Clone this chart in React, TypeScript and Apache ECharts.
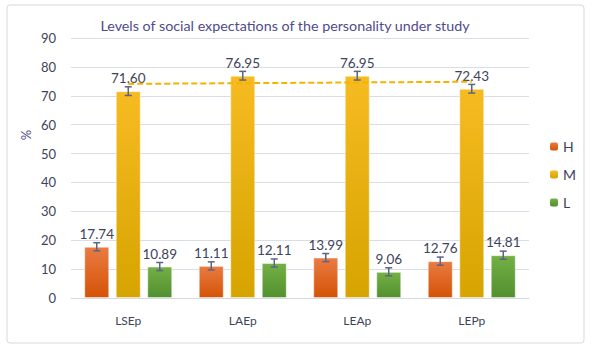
import React, { useEffect, useRef } from "react";
import * as echarts from "echarts";

const categories = ["LSEp", "LAEp", "LEAp", "LEPp"];
const seriesNames = ["H", "M", "L"];
const valuesH = [17.74, 11.11, 13.99, 12.76];
const valuesM = [71.6, 76.95, 76.95, 72.43];
const valuesL = [10.89, 12.11, 9.06, 14.81];
const errorsH = [1.4, 1.4, 1.4, 1.4];
const errorsM = [1.5, 1.5, 1.5, 1.5];
const errorsL = [1.4, 1.4, 1.4, 1.4];
const trendM = [74.11, 74.86];
const yTicks = { min: 0, max: 90, interval: 10 };

const FONT = "Lato, 'Open Sans', sans-serif";
const BAR_W = 25;
const BAR_GAP = 0.26;

function grad(top: string, bottom: string) {
  return new echarts.graphic.LinearGradient(0, 0, 0, 1, [
    { offset: 0, color: top },
    { offset: 1, color: bottom },
  ]);
}

export default function App() {
  const ref = useRef<HTMLDivElement>(null);
  useEffect(() => {
    if (!ref.current) return;
    const chart = echarts.init(ref.current, undefined, { renderer: "svg" });
    const allValues = [valuesH, valuesM, valuesL];
    const allErrors = [errorsH, errorsM, errorsL];
    const errData: number[][] = [];
    allValues.forEach((vals, s) =>
      vals.forEach((v, c) => errData.push([c, s, v, allErrors[s][c]]))
    );
    const colors = [
      grad("#ea7b42", "#d45306"),
      grad("#f7bb22", "#d6a400"),
      grad("#74b045", "#529030"),
    ];
    const labelStyle = {
      show: true,
      position: "top" as const,
      distance: 6,
      color: "#3d4459",
      fontSize: 13.5,
      fontFamily: FONT,
      formatter: (p: any) => Number(p.value).toFixed(2),
    };
    const barSeries = allValues.map((vals, i) => ({
      name: seriesNames[i],
      type: "bar",
      data: vals,
      barWidth: BAR_W,
      barGap: BAR_GAP * 100 + "%",
      itemStyle: {
        color: colors[i],
        borderColor: "rgba(255,255,255,0.45)",
        borderWidth: 1,
      },
      label: labelStyle,
      z: 2,
      ...(i === 1
        ? {
            markLine: {
              silent: true,
              symbol: "none",
              label: { show: false },
              lineStyle: { color: "#f5b300", type: [6, 3], width: 2 },
              data: [
                [
                  { coord: [categories[0], trendM[0]] },
                  { coord: [categories[categories.length - 1], trendM[1]] },
                ],
              ],
              z: 5,
            },
          }
        : {}),
    }));
    chart.setOption({
      animation: false,
      backgroundColor: "#ffffff",
      title: {
        text: "Levels of social expectations of the personality under study",
        left: 280,
        textAlign: "center",
        top: 13,
        textStyle: {
          color: "#4f4c8c",
          fontSize: 14.3,
          fontWeight: "normal",
          fontFamily: FONT,
        },
      },
      graphic: [
        {
          type: "rect",
          shape: { x: 7, y: 5, width: 577, height: 338, r: 3 },
          style: { fill: "none", stroke: "#d9d9d9", lineWidth: 1 },
          silent: true,
          z: -1,
        },
        {
          type: "text",
          x: 26,
          y: 135,
          rotation: Math.PI / 2,
          style: {
            text: "%",
            fill: "#4f4c8c",
            font: `13px ${FONT}`,
            textAlign: "center",
            textVerticalAlign: "middle",
          },
        },
      ],
      legend: {
        orient: "vertical",
        left: 545,
        top: 133,
        itemWidth: 8,
        itemHeight: 8,
        itemGap: 11,
        itemStyle: { borderWidth: 0 },
        textStyle: {
          color: "#3d4459",
          fontSize: 14,
          fontFamily: FONT,
          lineHeight: 17,
        },
        data: seriesNames,
      },
      grid: { left: 71, right: 64, top: 38, bottom: 53 },
      xAxis: {
        type: "category",
        data: categories,
        axisLine: { lineStyle: { color: "#d6dae2" } },
        axisTick: { show: false },
        axisLabel: {
          color: "#3d4459",
          fontSize: 12,
          fontFamily: FONT,
          margin: 16,
        },
      },
      yAxis: {
        type: "value",
        min: yTicks.min,
        max: yTicks.max,
        interval: yTicks.interval,
        axisLine: { show: false },
        axisTick: { show: false },
        splitLine: { lineStyle: { color: "#d9dde5", width: 1 } },
        axisLabel: {
          color: "#3d4459",
          fontSize: 13,
          fontFamily: FONT,
          margin: 15,
        },
      },
      series: [
        ...barSeries,
        {
          type: "custom",
          name: "err",
          silent: true,
          z: 10,
          encode: { x: 0, y: 2 },
          data: errData,
          renderItem: (params: any, api: any) => {
            const c = api.value(0);
            const s = api.value(1);
            const v = api.value(2);
            const e = api.value(3);
            const hi = api.coord([c, v + e]);
            const lo = api.coord([c, v - e]);
            const x = hi[0] + (s - 1) * BAR_W * (1 + BAR_GAP);
            const cap = 3.5;
            const style = { stroke: "#5a6585", lineWidth: 1.5 };
            return {
              type: "group",
              children: [
                { type: "line", shape: { x1: x, y1: hi[1], x2: x, y2: lo[1] }, style },
                { type: "line", shape: { x1: x - cap, y1: hi[1], x2: x + cap, y2: hi[1] }, style },
                { type: "line", shape: { x1: x - cap, y1: lo[1], x2: x + cap, y2: lo[1] }, style },
              ],
            };
          },
        },
      ],
    });
    return () => chart.dispose();
  }, []);
  return (
    <div
      ref={ref}
      style={{ position: "fixed", left: 0, top: 0, width: 593, height: 351 }}
    />
  );
}
